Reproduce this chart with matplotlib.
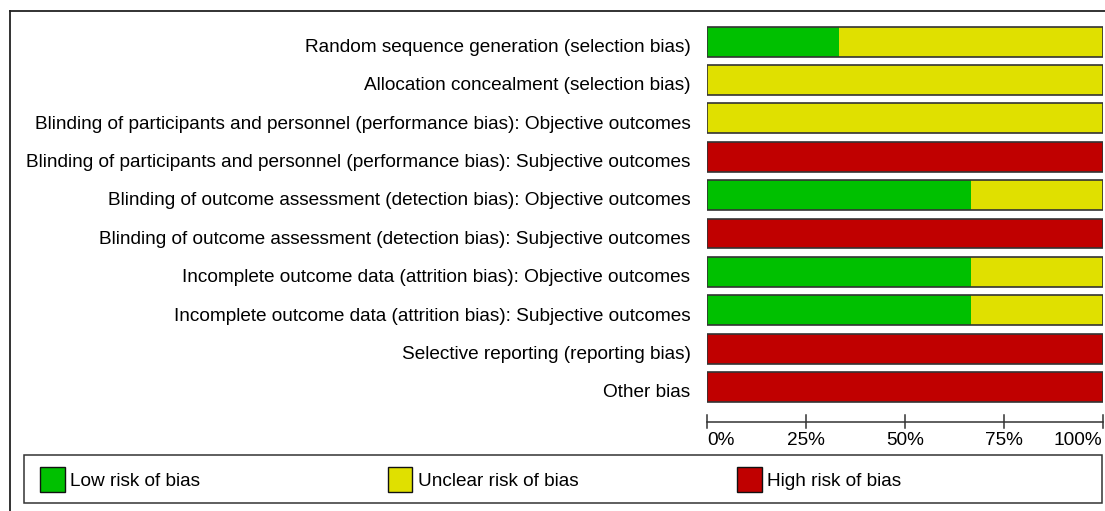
import matplotlib
matplotlib.use("Agg")
import matplotlib.pyplot as plt
from matplotlib.lines import Line2D
from matplotlib.patches import Rectangle

# risk of bias domains (top to bottom) and percentages per judgement
domains = [
    "Random sequence generation (selection bias)",
    "Allocation concealment (selection bias)",
    "Blinding of participants and personnel (performance bias): Objective outcomes",
    "Blinding of participants and personnel (performance bias): Subjective outcomes",
    "Blinding of outcome assessment (detection bias): Objective outcomes",
    "Blinding of outcome assessment (detection bias): Subjective outcomes",
    "Incomplete outcome data (attrition bias): Objective outcomes",
    "Incomplete outcome data (attrition bias): Subjective outcomes",
    "Selective reporting (reporting bias)",
    "Other bias",
]
low = [33.3, 0, 0, 0, 66.7, 0, 66.7, 66.7, 0, 0]
unclear = [66.7, 100, 100, 0, 33.3, 0, 33.3, 33.3, 0, 0]
high = [0, 0, 0, 100, 0, 100, 0, 0, 100, 100]

tick_vals = [0, 25, 50, 75, 100]
tick_labels = ["0%", "25%", "50%", "75%", "100%"]
legend_labels = ["Low risk of bias", "Unclear risk of bias", "High risk of bias"]

GREEN = "#00c000"
YELLOW = "#e0e000"
RED = "#c00000"
EDGE = "#333333"

W, H = 1105, 511
plt.rcParams["font.family"] = ["Liberation Sans", "DejaVu Sans"]
fig = plt.figure(figsize=(W / 100, H / 100), dpi=100)
FS = 13.7
CAP = FS * 100 / 72 * 0.716  # cap height in px


def fx(px):
    return px / W


def fy(py):
    return 1 - py / H


# bar axes in pixel layout
top, bottom = 22.5, 406.2
ax = fig.add_axes([fx(707), fy(bottom), fx(1102.5) - fx(707), fy(top) - fy(bottom)])
ypos = list(range(len(domains)))
row_px = (bottom - top) / len(domains)
ax.barh(ypos, low, height=0.78, color=GREEN, linewidth=0)
ax.barh(ypos, unclear, left=low, height=0.78, color=YELLOW, linewidth=0)
left_high = [a + b for a, b in zip(low, unclear)]
ax.barh(ypos, high, left=left_high, height=0.78, color=RED, linewidth=0)
# outline around each whole bar
ax.barh(ypos, [100] * len(domains), height=0.78, fill=False, edgecolor=EDGE, linewidth=1.2)
ax.set_xlim(0, 100)
ax.set_ylim(len(domains) - 0.5, -0.5)
ax.set_xticks([])
ax.set_yticks([])
for s in ["top", "left", "right", "bottom"]:
    ax.spines[s].set_visible(False)

# x axis drawn below the bars
hpx = bottom - top
axis_y = -15.5 / hpx
xt = ax.get_xaxis_transform()
ax.plot([0, 100], [axis_y, axis_y], color=EDGE, lw=1.1, clip_on=False, transform=xt)
for v, lab in zip(tick_vals, tick_labels):
    ax.plot([v, v], [axis_y - 6 / hpx, axis_y + 7 / hpx], color=EDGE,
            lw=1.1, clip_on=False, transform=xt)
    ha = "left" if v == tick_vals[0] else ("right" if v == tick_vals[-1] else "center")
    ax.text(v, axis_y - 23 / hpx, lab, ha=ha, va="baseline", fontsize=FS, transform=xt)

# row labels sit slightly below the bar centre, as in the original
for i, name in enumerate(domains):
    ax.text(-4.2, i + (CAP / 2 + 3.5) / row_px, name, ha="right", va="baseline",
            fontsize=FS, clip_on=False)

# outer frame (top and left)
fig.add_artist(Line2D([fx(10), fx(W)], [fy(11.5), fy(11.5)], color="#222222", lw=1.3))
fig.add_artist(Line2D([fx(10), fx(10)], [fy(11.5), 0], color="#222222", lw=1.3))

# legend box
fig.add_artist(Rectangle((fx(24), fy(503)), fx(1102) - fx(24), fy(455) - fy(503),
                         transform=fig.transFigure, fill=False, edgecolor=EDGE, lw=1.1))
for (x0, col, lab) in zip([40, 388, 737], [GREEN, YELLOW, RED], legend_labels):
    fig.add_artist(Rectangle((fx(x0), fy(491.5)), fx(24.5), fy(467) - fy(491.5),
                             transform=fig.transFigure, facecolor=col, edgecolor="#111111", lw=1.0))
    fig.text(fx(x0 + 30), fy(479.5 + CAP / 2), lab, ha="left", va="baseline", fontsize=FS)

fig.savefig("out.png", dpi=100, facecolor="white")
